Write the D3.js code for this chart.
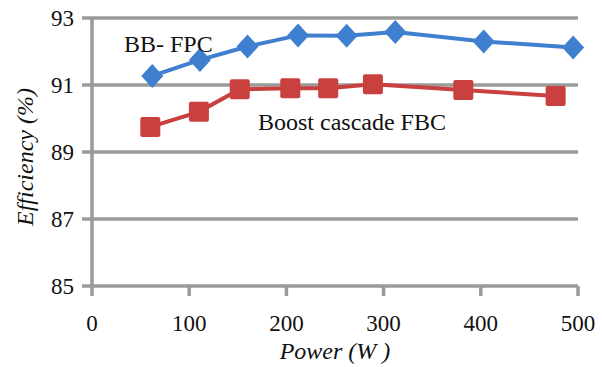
<!DOCTYPE html>
<html>
<head>
<meta charset="utf-8">
<script src="https://cdn.jsdelivr.net/npm/d3@7"></script>
<style>
  body { margin: 0; background: #fff; }
</style>
</head>
<body>
<svg class="chart" width="602" height="367"></svg>
<script>
// data
var bbPower = [62, 111, 160, 212, 262, 312, 403, 495];
var bbEff   = [91.27, 91.75, 92.15, 92.48, 92.47, 92.58, 92.3, 92.12];
var fbcPower = [60, 110, 152, 204, 243, 289, 382, 477];
var fbcEff   = [89.75, 90.2, 90.87, 90.9, 90.9, 91.02, 90.85, 90.67];
var xTicks = [0, 100, 200, 300, 400, 500];
var yTicks = [85, 87, 89, 91, 93];

var svg = d3.select(".chart");

var x = d3.scaleLinear().domain([0, 500]).range([92, 578]);
var y = d3.scaleLinear().domain([85, 93]).range([286, 18]);

var grey = "#9a9a9a";

// serif font for every label
function serif(sel, size) {
    return sel.style("font-family", "Liberation Serif", "important")
        .style("font-size", size + "px", "important")
        .style("fill", "#111");
}

// horizontal grid
svg.append("g").selectAll("line")
    .data(yTicks).enter()
    .append("line")
    .attr("x1", x(0) - 10)
    .attr("x2", x(500))
    .attr("y1", function(d) { return y(d); })
    .attr("y2", function(d) { return y(d); })
    .attr("stroke", grey)
    .attr("stroke-width", 3.5);

// y axis line
svg.append("line")
    .attr("x1", x(0)).attr("x2", x(0))
    .attr("y1", y(93)).attr("y2", y(85) + 10)
    .attr("stroke", grey).attr("stroke-width", 3.5);

// x ticks
svg.append("g").selectAll("line")
    .data(xTicks.slice(1)).enter()
    .append("line")
    .attr("x1", function(d) { return x(d); })
    .attr("x2", function(d) { return x(d); })
    .attr("y1", y(85))
    .attr("y2", y(85) + 10)
    .attr("stroke", grey)
    .attr("stroke-width", 3.5);

// tick labels
serif(svg.append("g").selectAll("text")
    .data(yTicks).enter()
    .append("text")
    .attr("x", 74)
    .attr("y", function(d) { return y(d); })
    .attr("dy", "0.35em")
    .attr("text-anchor", "end"), 23)
    .text(function(d) { return d; });

serif(svg.append("g").selectAll("text")
    .data(xTicks).enter()
    .append("text")
    .attr("x", function(d) { return x(d); })
    .attr("y", 331)
    .attr("text-anchor", "middle"), 23)
    .text(function(d) { return d; });

// axis titles
serif(svg.append("text")
    .attr("x", 335).attr("y", 359)
    .attr("text-anchor", "middle"), 24)
    .style("font-style", "italic")
    .text("Power (W )");

serif(svg.append("text")
    .attr("transform", "translate(33,157) rotate(-90)")
    .attr("text-anchor", "middle"), 24)
    .style("font-style", "italic")
    .text("Efficiency (%)");

var line = d3.line()
    .x(function(d) { return x(d[0]); })
    .y(function(d) { return y(d[1]); });

var bb = d3.zip(bbPower, bbEff);
var fbc = d3.zip(fbcPower, fbcEff);

// red series
svg.append("path")
    .datum(fbc)
    .attr("d", line)
    .attr("fill", "none")
    .attr("stroke", "#c9403f")
    .attr("stroke-width", 4);

svg.append("g").selectAll("rect")
    .data(fbc).enter()
    .append("rect")
    .attr("x", function(d) { return x(d[0]) - 10; })
    .attr("y", function(d) { return y(d[1]) - 10; })
    .attr("width", 20)
    .attr("height", 20)
    .attr("rx", 2)
    .attr("fill", "#c9403f");

// blue series
svg.append("path")
    .datum(bb)
    .attr("d", line)
    .attr("fill", "none")
    .attr("stroke", "#3f7fd0")
    .attr("stroke-width", 4);

svg.append("g").selectAll("path.dia")
    .data(bb).enter()
    .append("path")
    .attr("class", "dia")
    .attr("transform", function(d) { return "translate(" + x(d[0]) + "," + y(d[1]) + ")"; })
    .attr("d", "M0,-12L11,0L0,12L-11,0Z")
    .attr("fill", "#3f7fd0");

// series labels
serif(svg.append("text")
    .attr("x", 124).attr("y", 52), 24)
    .text("BB- FPC");

serif(svg.append("text")
    .attr("x", 258).attr("y", 130), 24)
    .text("Boost cascade FBC");
</script>
</body>
</html>
